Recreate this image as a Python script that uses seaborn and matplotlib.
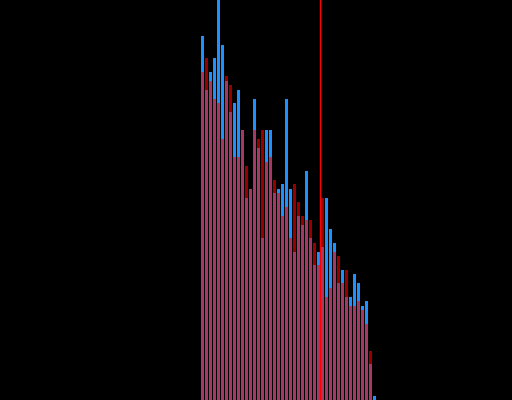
import matplotlib
matplotlib.use("Agg")
import matplotlib.pyplot as plt
import seaborn as sns
import pandas as pd

bins = list(range(44))
blue_counts = [81, 69, 73, 76, 89, 79, 71, 64, 66, 69, 60, 45, 47, 67, 56, 36,
               60, 60, 46, 47, 48, 67, 47, 33, 41, 39, 51, 36, 30, 33, 34, 45,
               38, 35, 26, 29, 23, 23, 28, 26, 21, 22, 8, 1]
red_counts = [73, 76, 71, 67, 66, 58, 72, 70, 54, 54, 60, 52, 47, 60, 58, 60,
              53, 54, 49, 46, 41, 43, 36, 48, 44, 41, 40, 40, 35, 30, 45, 23,
              25, 33, 32, 26, 29, 21, 21, 22, 20, 17, 11, 0]
marker_value = 29.45

df = pd.DataFrame({"bin": bins, "blue": blue_counts, "red": red_counts})

fig = plt.figure(figsize=(5.12, 4.0), dpi=100, facecolor="black")
ax = fig.add_axes([0, 0, 1, 1])
ax.set_facecolor("black")

sns.barplot(data=df, x="bin", y="blue", native_scale=True, width=0.75,
            color="#1e90ff", saturation=1, linewidth=0, edgecolor="none", ax=ax)
sns.barplot(data=df, x="bin", y="red", native_scale=True, width=0.75,
            color="#ff0000", alpha=0.6, saturation=1, linewidth=0,
            edgecolor="none", ax=ax)
ax.axvline(marker_value, color="#ff0000", lw=1.0, zorder=10)

ax.set_xlim(-50.625, 77.375)
ax.set_ylim(0, 88.9)
ax.axis("off")

fig.savefig("out.png", dpi=100, facecolor="black")
